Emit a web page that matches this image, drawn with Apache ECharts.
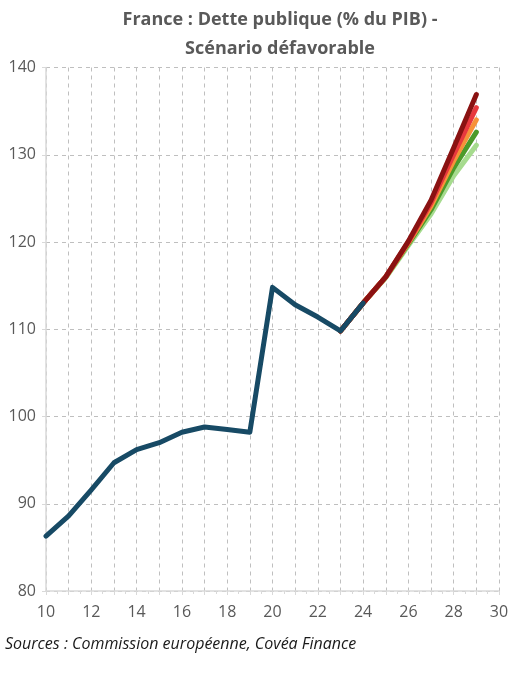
<!DOCTYPE html>
<html>
<head>
<meta charset="utf-8">
<script src="https://cdn.jsdelivr.net/npm/echarts@6/dist/echarts.min.js"></script>
<style>
html,body{margin:0;padding:0;background:#fff;}
#c{width:520px;height:678px;}
</style>
</head>
<body>
<div id="c"></div>
<script>
var histYears = [10,11,12,13,14,15,16,17,18,19,20,21,22,23,24];
var histDebt = [86.3,88.6,91.6,94.7,96.2,97.0,98.2,98.8,98.5,98.2,114.8,112.8,111.4,109.8,113.0];
var scenYears = [23,24,25,26,27,28,29];
var scenDarkRed = [109.8,113.0,116.0,120.1,124.8,130.8,136.9];
var scenRed = [109.8,113.0,116.0,120.0,124.5,130.0,135.4];
var scenOrange = [109.8,113.0,116.0,119.9,124.1,129.3,134.0];
var scenGreen = [109.8,113.0,116.0,119.8,123.7,128.5,132.6];
var scenLightGreen = [109.8,113.0,115.9,119.6,123.2,127.6,131.1];
var yTicks = [80,90,100,110,120,130,140];
var xTicks = [10,12,14,16,18,20,22,24,26,28,30];

function pairs(xs, ys){ return xs.map(function(x,i){ return [x, ys[i]]; }); }
function line(name, xs, ys, color, z){
  return {name:name, type:'line', data:pairs(xs,ys), showSymbol:false, symbol:'none',
    lineStyle:{color:color, width:5, cap:'round', join:'round'}, itemStyle:{color:color}, z:z, animation:false};
}
var chart = echarts.init(document.getElementById('c'), null, {renderer:'canvas'});
chart.setOption({
  animation:false,
  backgroundColor:'#fff',
  title:{
    text:'France : Dette publique (% du PIB) -\nScénario défavorable',
    left:275, top:0, textAlign:'center',
    textStyle:{fontFamily:'Open Sans', fontWeight:'bold', fontSize:18, color:'#595959', lineHeight:29}
  },
  graphic:[{type:'text', left:5, top:636, style:{text:'Sources : Commission européenne, Covéa Finance', font:'italic 16px "Open Sans"', fill:'#1a1a1a'}}],
  grid:{left:46, right:21, top:67.5, bottom:87, containLabel:false},
  xAxis:{
    type:'value', min:10, max:30, interval:1,
    axisLine:{show:true, lineStyle:{color:'#D9D9D9', width:1.5}},
    axisTick:{show:true, length:4, lineStyle:{color:'#D9D9D9'}},
    minorTick:{show:true, splitNumber:2, length:3, lineStyle:{color:'#D9D9D9'}},
    axisLabel:{fontFamily:'Open Sans', fontSize:16, color:'#595959', margin:13,
      formatter:function(v){ return xTicks.indexOf(v) >= 0 ? String(v) : ''; }},
    splitLine:{show:true, lineStyle:{color:'#BFBFBF', type:[4,4], width:1}}
  },
  yAxis:{
    type:'value', min:80, max:140, interval:10,
    axisLine:{show:true, lineStyle:{color:'#D9D9D9', width:1.5}},
    axisTick:{show:true, length:4, lineStyle:{color:'#D9D9D9'}},
    axisLabel:{fontFamily:'Open Sans', fontSize:16, color:'#595959', margin:10,
      formatter:function(v){ return yTicks.indexOf(v) >= 0 ? String(v) : ''; }},
    splitLine:{show:true, lineStyle:{color:'#BFBFBF', type:[4,4], width:1}}
  },
  series:[
    line('Scénario 5', scenYears, scenLightGreen, '#A6DB8E', 2),
    line('Scénario 4', scenYears, scenGreen, '#4C9A2A', 3),
    line('Scénario 3', scenYears, scenOrange, '#F7923A', 4),
    line('Scénario 2', scenYears, scenRed, '#E8393E', 5),
    line('Scénario 1', scenYears, scenDarkRed, '#8A1212', 6),
    line('Historique', histYears, histDebt, '#174A65', 7)
  ]
});
</script>
</body>
</html>
